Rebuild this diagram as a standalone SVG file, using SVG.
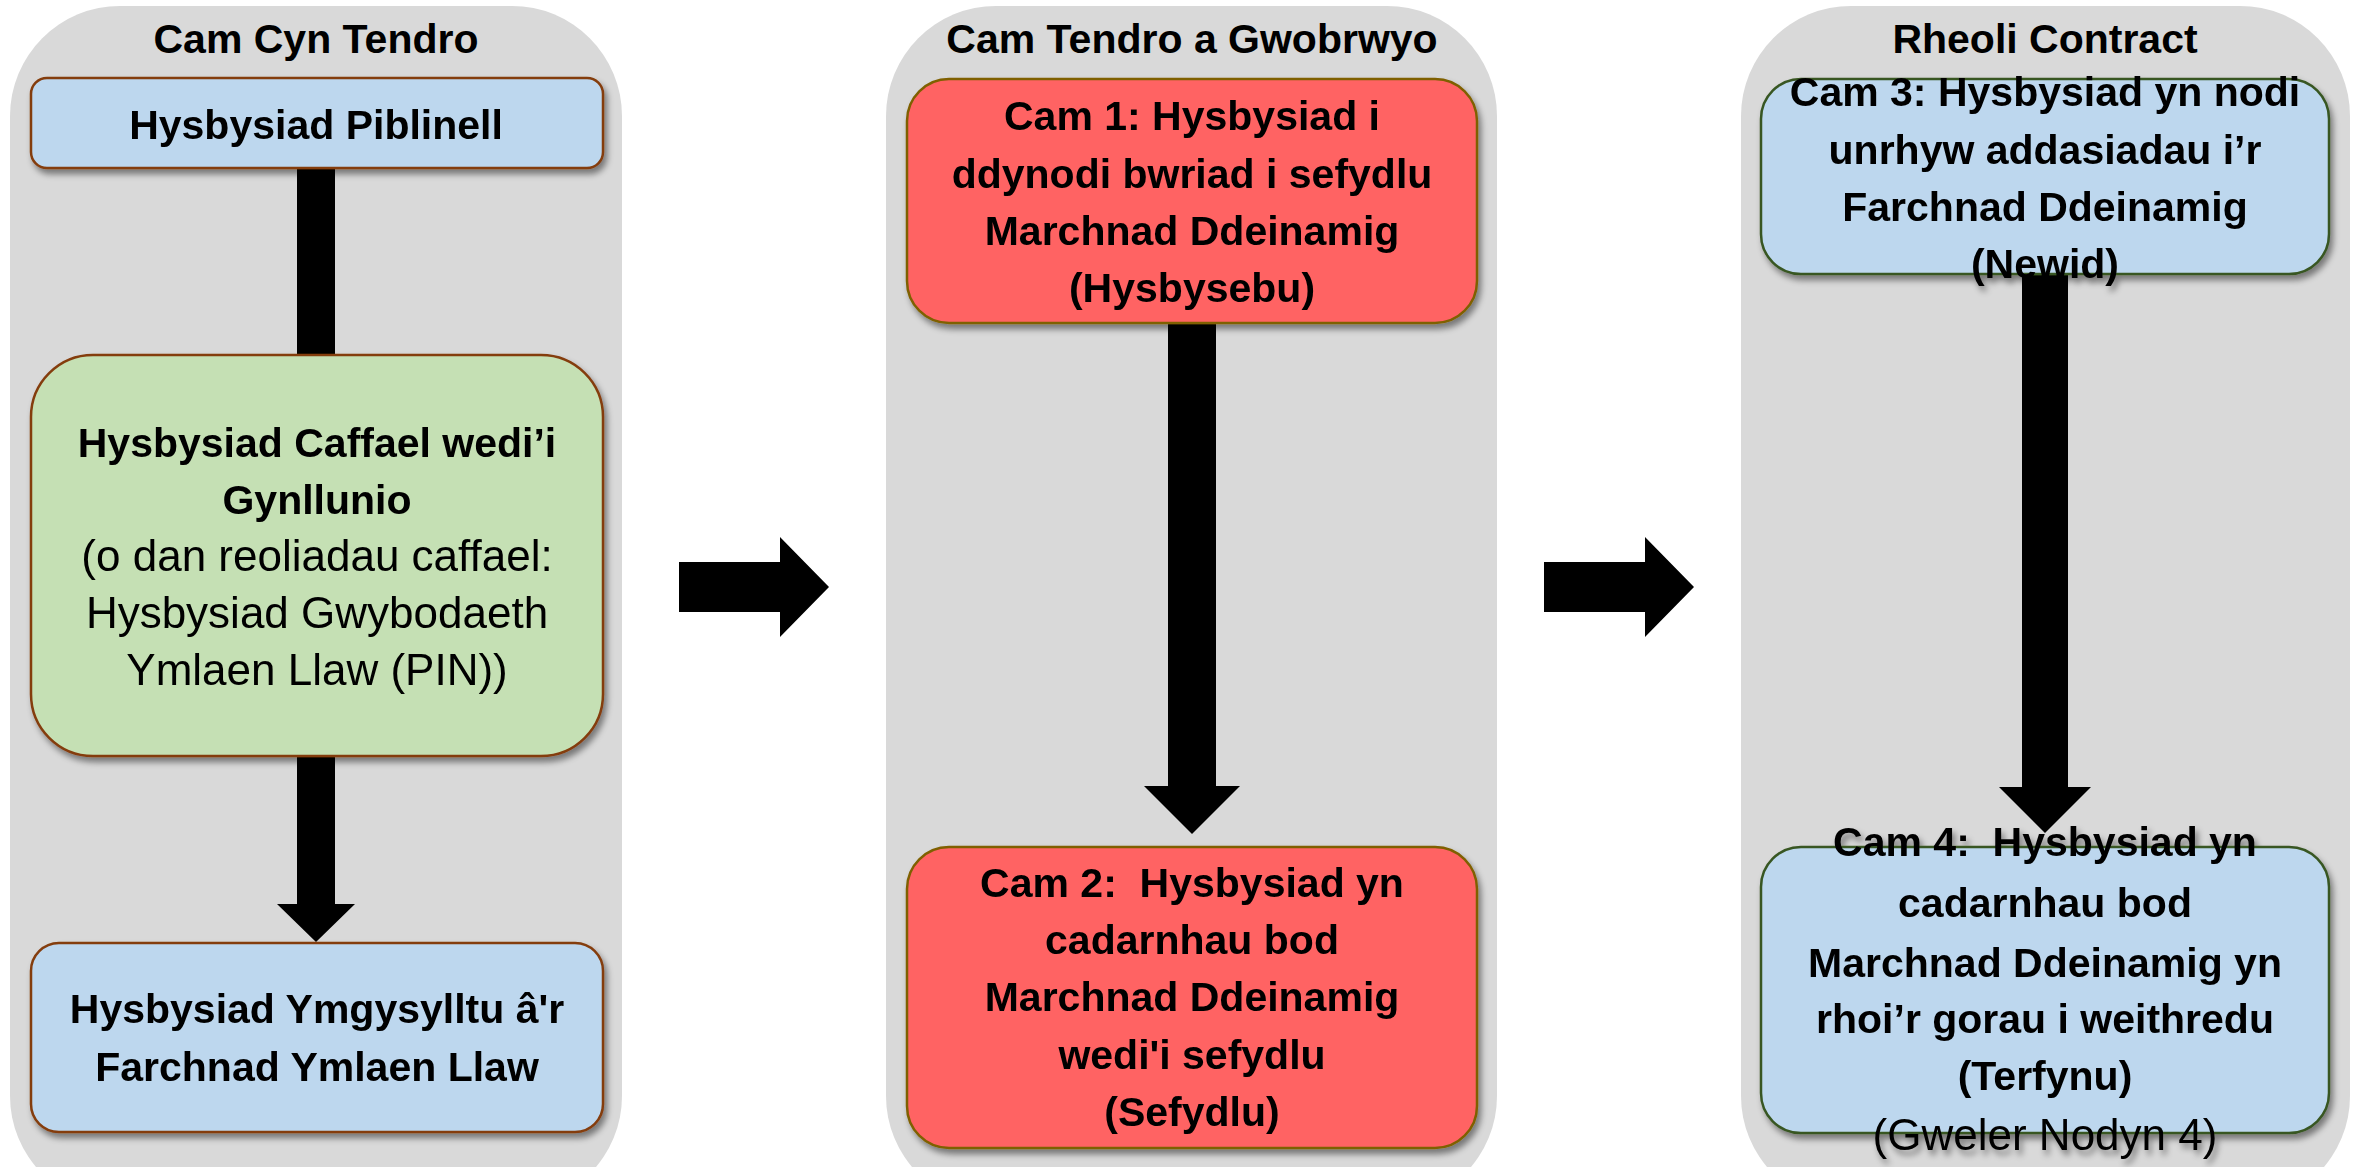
<svg xmlns="http://www.w3.org/2000/svg" width="2364" height="1167" viewBox="0 0 2364 1167">
<defs>
<filter id="sh" x="-10%" y="-10%" width="120%" height="125%">
<feDropShadow dx="3" dy="5" stdDeviation="3" flood-color="#000" flood-opacity="0.45"/>
</filter>
<style>
.panel{fill:#D9D9D9}
.title{font-family:"Liberation Sans",Arial,sans-serif;font-weight:bold;font-size:41px;fill:#000;text-anchor:middle}
.b{font-family:"Liberation Sans",Arial,sans-serif;font-weight:bold;font-size:41px;fill:#000;text-anchor:middle}
.r{font-family:"Liberation Sans",Arial,sans-serif;font-weight:normal;font-size:44px;fill:#000;text-anchor:middle}
.blueB{fill:#BDD7EE;stroke:#843C0C;stroke-width:2.5}
.blueG{fill:#BDD7EE;stroke:#385723;stroke-width:2.5}
.green{fill:#C5E0B4;stroke:#843C0C;stroke-width:2.5}
.red{fill:#FF6363;stroke:#7F6000;stroke-width:2.5}
.conn{fill:#000}
</style>
</defs>
<rect width="2364" height="1167" fill="#FFFFFF"/>
<g id="panels">
<g id="panel-pre-tender">
<rect class="panel" x="10" y="6" width="612" height="1200" rx="110"/>
<text class="title" x="316" y="53">Cam Cyn Tendro</text>
</g>
<g id="panel-tender-award">
<rect class="panel" x="886" y="6" width="611" height="1200" rx="110"/>
<text class="title" x="1192" y="53">Cam Tendro a Gwobrwyo</text>
</g>
<g id="panel-contract-management">
<rect class="panel" x="1741" y="6" width="609" height="1200" rx="110"/>
<text class="title" x="2045" y="53">Rheoli Contract</text>
</g>
</g>
<g id="connectors">
<rect class="conn" x="297" y="168" width="38" height="188"/>
<polygon class="conn" points="297,755 335,755 335,904 355,904 316,942 277,904 297,904"/>
<polygon class="conn" points="1168,322 1216,322 1216,786 1240,786 1192,834 1144,786 1168,786"/>
<polygon class="conn" points="2022,273 2068,273 2068,787 2091,787 2045,833 1999,787 2022,787"/>
<polygon class="conn" points="679,562 780,562 780,537 829,587 780,637 780,612 679,612"/>
<polygon class="conn" points="1544,562 1645,562 1645,537 1694,587 1645,637 1645,612 1544,612"/>
</g>
<g id="node-piblinell" filter="url(#sh)">
<rect class="blueB" x="31" y="78" width="572" height="90" rx="16"/>
<text class="b" x="316" y="139">Hysbysiad Piblinell</text>
</g>
<g id="node-caffael" filter="url(#sh)">
<rect class="green" x="31" y="355" width="572" height="401" rx="62"/>
<text class="b" x="317" y="457">Hysbysiad Caffael wedi’i</text>
<text class="b" x="317" y="514">Gynllunio</text>
<text class="r" x="317" y="571">(o dan reoliadau caffael:</text>
<text class="r" x="317" y="628">Hysbysiad Gwybodaeth</text>
<text class="r" x="317" y="685">Ymlaen Llaw (PIN))</text>
</g>
<g id="node-ymgysylltu" filter="url(#sh)">
<rect class="blueB" x="31" y="943" width="572" height="189" rx="28"/>
<text class="b" x="317" y="1023">Hysbysiad Ymgysylltu â'r</text>
<text class="b" x="317" y="1081">Farchnad Ymlaen Llaw</text>
</g>
<g id="node-cam1" filter="url(#sh)">
<rect class="red" x="907" y="79" width="570" height="244" rx="42"/>
<text class="b" x="1192" y="130">Cam 1: Hysbysiad i</text>
<text class="b" x="1192" y="188">ddynodi bwriad i sefydlu</text>
<text class="b" x="1192" y="245">Marchnad Ddeinamig</text>
<text class="b" x="1192" y="302">(Hysbysebu)</text>
</g>
<g id="node-cam2" filter="url(#sh)">
<rect class="red" x="907" y="847" width="570" height="301" rx="42"/>
<text class="b" x="1192" y="897" xml:space="preserve">Cam 2:  Hysbysiad yn</text>
<text class="b" x="1192" y="954">cadarnhau bod</text>
<text class="b" x="1192" y="1011">Marchnad Ddeinamig</text>
<text class="b" x="1192" y="1069">wedi'i sefydlu</text>
<text class="b" x="1192" y="1126">(Sefydlu)</text>
</g>
<g id="node-cam3" filter="url(#sh)">
<rect class="blueG" x="1761" y="79" width="568" height="195" rx="40"/>
<text class="b" x="2045" y="106">Cam 3: Hysbysiad yn nodi</text>
<text class="b" x="2045" y="164">unrhyw addasiadau i’r</text>
<text class="b" x="2045" y="221">Farchnad Ddeinamig</text>
<text class="b" x="2045" y="278">(Newid)</text>
</g>
<g id="node-cam4" filter="url(#sh)">
<rect class="blueG" x="1761" y="847" width="568" height="286" rx="40"/>
<text class="b" x="2045" y="856" xml:space="preserve">Cam 4:  Hysbysiad yn</text>
<text class="b" x="2045" y="917">cadarnhau bod</text>
<text class="b" x="2045" y="977">Marchnad Ddeinamig yn</text>
<text class="b" x="2045" y="1033">rhoi’r gorau i weithredu</text>
<text class="b" x="2045" y="1090">(Terfynu)</text>
<text class="r" x="2045" y="1150">(Gweler Nodyn 4)</text>
</g>
</svg>
